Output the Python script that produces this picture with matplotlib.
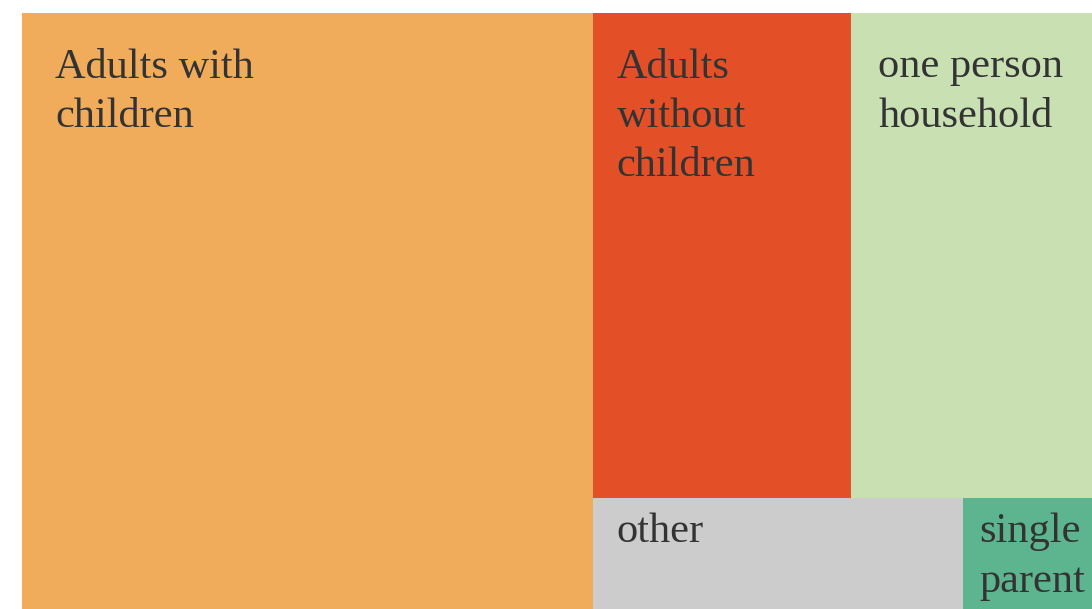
import matplotlib.pyplot as plt
from matplotlib.patches import Rectangle

# household types, share in %
labels = ["Adults with\nchildren", "Adults\nwithout\nchildren", "one person\nhousehold", "other", "single\nparent"]
values = [53.4, 19.6, 18.3, 6.45, 2.25]
colors = ["#F0AC5A", "#E35027", "#C9E0B3", "#CCCCCC", "#5CB58E"]
# text offset (px) from the tile's top-left corner
text_off = [(33, 35), (23, 35), (27, 35), (23, 15), (16, 15)]

W, H = 1092, 609
X0, Y0, TW, TH = 22, 13, 1070, 596
PHI = (1 + 5 ** 0.5) / 2


def squarify(vals, x0, y0, x1, y1, ratio=PHI):
    # same idea as d3.treemapSquarify
    rects = []
    value = sum(vals)
    n = len(vals)
    i0 = 0
    while i0 < n:
        dx, dy = x1 - x0, y1 - y0
        i1 = i0 + 1
        s = vals[i0]
        mn = mx = s
        alpha = max(dy / dx, dx / dy) / (value * ratio)
        beta = s * s * alpha
        min_ratio = max(mx / beta, beta / mn)
        while i1 < n:
            v = vals[i1]
            mn2, mx2 = min(mn, v), max(mx, v)
            beta = (s + v) ** 2 * alpha
            r = max(mx2 / beta, beta / mn2)
            if r > min_ratio:
                break
            s += v
            mn, mx = mn2, mx2
            min_ratio = r
            i1 += 1
        row = vals[i0:i1]
        if dx < dy:
            h = dy * s / value
            xx = x0
            for v in row:
                w = dx * v / s
                rects.append((xx, y0, w, h))
                xx += w
            y0 += h
        else:
            w = dx * s / value
            yy = y0
            for v in row:
                h = dy * v / s
                rects.append((x0, yy, w, h))
                yy += h
            x0 += w
        value -= s
        i0 = i1
    return rects


fig = plt.figure(figsize=(W / 100, H / 100), dpi=100)
ax = fig.add_axes([0, 0, 1, 1])
ax.set_xlim(0, W)
ax.set_ylim(H, 0)
ax.axis("off")

tiles = squarify(values, X0, Y0, X0 + TW, Y0 + TH)
for (x, y, w, h), lab, col, (dx, dy) in zip(tiles, labels, colors, text_off):
    ax.add_patch(Rectangle((x, y), w, h, facecolor=col, edgecolor="none"))
    ax.text(x + dx, y + dy, lab, ha="left", va="top", fontsize=30.5,
            family="Liberation Serif", color="#333333", linespacing=1.37)

fig.savefig("out.png", dpi=100)
